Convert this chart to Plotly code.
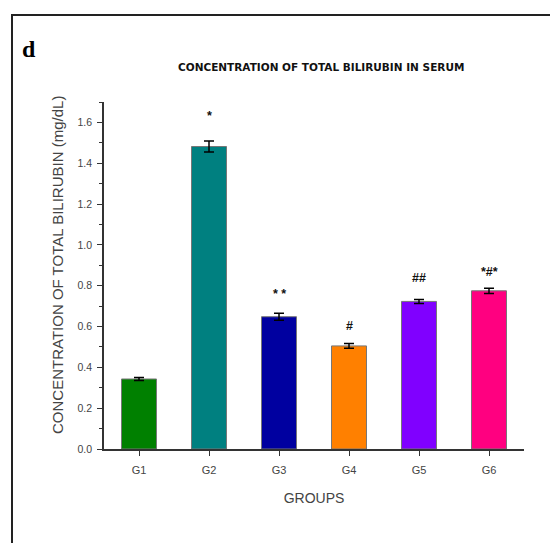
import plotly.graph_objects as go

groups = ["G1", "G2", "G3", "G4", "G5", "G6"]
values = [0.343, 1.482, 0.648, 0.505, 0.723, 0.775]
errors = [0.007, 0.027, 0.017, 0.012, 0.010, 0.013]
marks = ["", "*", "* *", "#", "##", "*#*"]
colors = ["#008000", "#008080", "#0000A0", "#FF8000", "#8000FF", "#FF0080"]

# vertical gap (px) between error-bar top and mark
mark_gap = [0, 16, 10, 8, 12, 7]

fig = go.Figure()
fig.add_trace(go.Bar(
    x=groups, y=values,
    width=0.5,
    marker=dict(color=colors, line=dict(color="#777777", width=1)),
    error_y=dict(type="data", array=errors, visible=True, color="black", thickness=1.5, width=5),
    showlegend=False,
))

for g, v, e, m, s in zip(groups, values, errors, marks, mark_gap):
    if m:
        fig.add_annotation(x=g, y=v + e, text="<b>" + m + "</b>", showarrow=False,
                           yanchor="bottom", yshift=s,
                           font=dict(family="Liberation Sans", size=12.5, color="#111111"))

W, H = 550, 543
L, R, T, B = 104, 26, 102, 94
pw, ph = W - L - R, H - T - B

def px(x):
    return (x - L) / pw

def py(y):
    return (H - B - y) / ph

# outer frame
fig.add_shape(type="rect", xref="paper", yref="paper",
              x0=px(12), y0=py(700), x1=px(700), y1=py(15),
              line=dict(color="#222222", width=2))

fig.add_annotation(xref="paper", yref="paper", x=px(20), y=py(49), xanchor="left", yanchor="middle",
                   text="<b>d</b>", showarrow=False,
                   font=dict(family="Liberation Serif", size=24, color="black"))
fig.add_annotation(xref="paper", yref="paper", x=px(321), y=py(67), xanchor="center", yanchor="middle",
                   text="<b>CONCENTRATION OF TOTAL BILIRUBIN IN SERUM</b>", showarrow=False,
                   font=dict(family="DejaVu Sans", size=10.5, color="#111111"))
fig.add_annotation(xref="paper", yref="paper", x=px(57), y=py(265), xanchor="center", yanchor="middle",
                   text="CONCENTRATION OF TOTAL BILIRUBIN (mg/dL)", showarrow=False, textangle=-90,
                   font=dict(family="Liberation Sans", size=15, color="#444444"))

axis_font = dict(family="Liberation Sans", size=10.5, color="#444444")
fig.update_layout(
    width=W, height=H,
    margin=dict(l=L, r=R, t=T, b=B, pad=0),
    paper_bgcolor="white", plot_bgcolor="white",
    bargap=0.5,
    xaxis=dict(
        range=[-0.5, 5.5], showline=True, linecolor="#333333", linewidth=1.5,
        ticks="outside", ticklen=5, tickwidth=1, tickcolor="#333333",
        tickfont=dict(family="Liberation Sans", size=11, color="#444444"),
        ticklabelstandoff=5,
        showgrid=False, zeroline=False,
        minor=dict(ticks="outside", ticklen=5, tickwidth=1, tickcolor="#333333", dtick=1, tick0=0.5),
        title=dict(text="GROUPS", font=dict(family="Liberation Sans", size=14, color="#444444"), standoff=18),
    ),
    yaxis=dict(
        range=[0, 1.7], showline=True, linecolor="#333333", linewidth=1.5,
        tickmode="linear", tick0=0, dtick=0.2, tickformat=".1f",
        ticks="outside", ticklen=5, tickwidth=1, tickcolor="#333333",
        ticklabelstandoff=3,
        tickfont=axis_font, showgrid=False, zeroline=False,
        minor=dict(ticks="outside", ticklen=3, tickwidth=1, tickcolor="#333333", dtick=0.1),
    ),
)

fig.write_html("out.html", config={"displayModeBar": False},
               post_script="document.body.style.margin='0';")
